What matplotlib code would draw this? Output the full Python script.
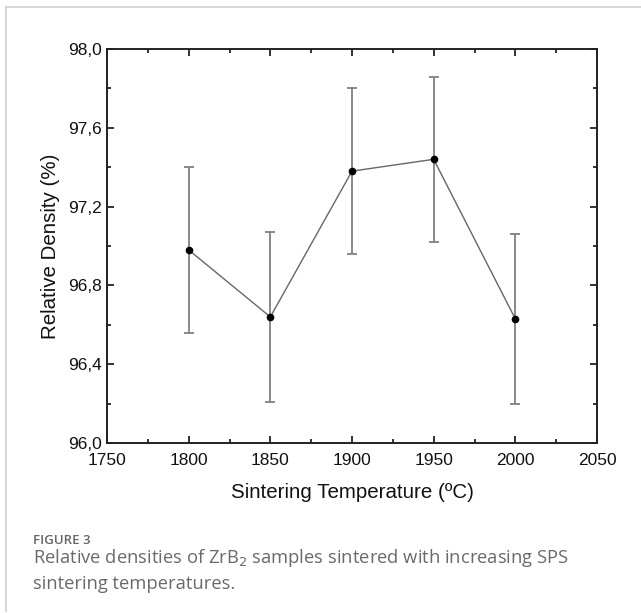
import matplotlib
matplotlib.use("Agg")
import matplotlib.pyplot as plt
from matplotlib.ticker import MultipleLocator
from matplotlib.lines import Line2D

temps = [1800, 1850, 1900, 1950, 2000]
density = [96.98, 96.64, 97.38, 97.44, 96.63]
errors = [0.42, 0.43, 0.42, 0.42, 0.43]
xticks = [1750, 1800, 1850, 1900, 1950, 2000, 2050]
yticks = [96.0, 96.4, 96.8, 97.2, 97.6, 98.0]
ytick_labels = ["96,0", "96,4", "96,8", "97,2", "97,6", "98,0"]

W, H = 641, 613
fig = plt.figure(figsize=(W / 100, H / 100), dpi=100)
plt.rcParams['font.family'] = ['Liberation Sans', 'DejaVu Sans']

# frame lines
fig.add_artist(Line2D([6 / W, 1], [1 - 7 / H, 1 - 7 / H], color='#d0d0d0', lw=1.2))
fig.add_artist(Line2D([6 / W, 6 / W], [1 - 7 / H, 1 - 611 / H], color='#d0d0d0', lw=1.2))

left, right, top, bottom = 107, 597, 49, 443
ax = fig.add_axes([left / W, 1 - bottom / H, (right - left) / W, (bottom - top) / H])

ax.errorbar(temps, density, yerr=errors, fmt='none', ecolor='#808080',
            elinewidth=1.3, capsize=3.5, capthick=1.3, zorder=2)
ax.plot(temps, density, '-', color='#666666', lw=1.0, zorder=3)
ax.plot(temps, density, 'o', color='black', ms=4.5, zorder=4)

ax.set_xlim(1750, 2050)
ax.set_ylim(96.0, 98.0)
ax.set_xticks(xticks)
ax.set_yticks(yticks)
ax.set_yticklabels(ytick_labels)
ax.xaxis.set_minor_locator(MultipleLocator(25))
ax.yaxis.set_minor_locator(MultipleLocator(0.2))
ax.tick_params(which='both', direction='in', top=True, right=True,
               width=1.3, color='#222222', labelsize=12.5, labelcolor='#111111')
ax.tick_params(which='major', length=5)
ax.tick_params(which='minor', length=3)
ax.tick_params(axis='x', which='major', pad=7)
ax.tick_params(axis='y', which='major', pad=4)
for s in ax.spines.values():
    s.set_linewidth(1.4)
    s.set_color('#222222')

ax.set_xlabel('Sintering Temperature (ºC)', fontsize=14.8, labelpad=11, color='#111111')
ax.set_ylabel('Relative Density (%)', fontsize=14.8, labelpad=5.5, color='#111111')

fig.text(33 / W, 1 - 541 / H, 'FIGURE 3', fontsize=9.5, color='#666666',
         family=['Open Sans', 'DejaVu Sans'], weight='semibold', va='center')
fig.text(33 / W, 1 - 558 / H, 'Relative densities of ZrB$_2$ samples sintered with increasing SPS',
         fontsize=13.2, color='#6a6a6a', family=['Open Sans', 'DejaVu Sans'], va='center')
fig.text(33 / W, 1 - 584 / H, 'sintering temperatures.',
         fontsize=13.2, color='#6a6a6a', family=['Open Sans', 'DejaVu Sans'], va='center')

fig.savefig('out.png', dpi=100)
